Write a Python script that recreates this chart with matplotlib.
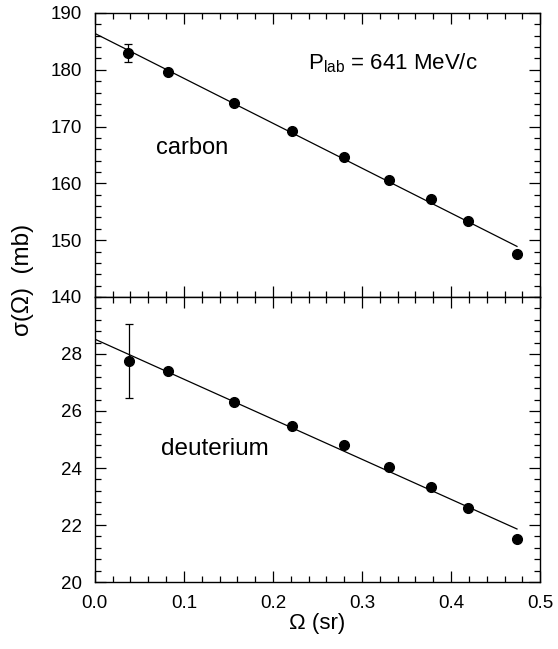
import numpy as np
import matplotlib.pyplot as plt
from matplotlib.ticker import MultipleLocator

plt.rcParams['font.family'] = ['Liberation Sans', 'DejaVu Sans']
plt.rcParams['mathtext.fontset'] = 'custom'
plt.rcParams['mathtext.rm'] = 'Liberation Sans'

# solid angle bins (sr)
omega_c = [0.037, 0.082, 0.156, 0.221, 0.280, 0.330, 0.378, 0.419, 0.474]
sigma_c = [183.0, 179.6, 174.1, 169.2, 164.6, 160.6, 157.2, 153.4, 147.6]
err_c = [1.6, 0, 0, 0, 0, 0, 0, 0, 0]

omega_d = [0.038, 0.082, 0.156, 0.221, 0.280, 0.330, 0.378, 0.419, 0.474]
sigma_d = [27.75, 27.40, 26.31, 25.49, 24.81, 24.02, 23.33, 22.61, 21.51]
err_d = [1.3, 0, 0, 0, 0, 0, 0, 0, 0]

# linear fits: intercept, slope
fit_c = (186.4, -79.1)
fit_d = (28.52, -14.05)
fit_range = (0.0, 0.474)

fig = plt.figure(figsize=(5.58, 6.49), dpi=100)
ax1 = fig.add_axes([0.170, 0.5424, 0.798, 0.4376])
ax2 = fig.add_axes([0.170, 0.1032, 0.798, 0.4392], sharex=ax1)


def draw(ax, om, sig, err, fit):
    xx = np.linspace(fit_range[0], fit_range[1], 2)
    ax.plot(xx, fit[0] + fit[1] * xx, color='black', lw=0.9)
    ax.errorbar(om, sig, yerr=err, fmt='o', color='black', ms=7,
                elinewidth=0.9, capsize=3, capthick=0.9)
    ax.tick_params(which='both', direction='in', top=True, right=True,
                   labelsize=13.5, width=0.9)
    ax.tick_params(which='major', length=8)
    ax.tick_params(which='minor', length=4)
    ax.tick_params(axis='y', pad=9)
    for s in ax.spines.values():
        s.set_linewidth(1.0)


draw(ax1, omega_c, sigma_c, err_c, fit_c)
draw(ax2, omega_d, sigma_d, err_d, fit_d)

ax1.set_xlim(0, 0.5)
ax1.set_ylim(140, 190)
ax1.yaxis.set_major_locator(MultipleLocator(10))
ax1.yaxis.set_minor_locator(MultipleLocator(2))
ax1.xaxis.set_major_locator(MultipleLocator(0.1))
ax1.xaxis.set_minor_locator(MultipleLocator(0.02))
ax1.tick_params(labelbottom=False)

ax2.set_ylim(20, 30)
ax2.set_yticks([20, 22, 24, 26, 28])
ax2.yaxis.set_minor_locator(MultipleLocator(0.4))
ax2.set_xticks([0.0, 0.1, 0.2, 0.3, 0.4, 0.5])
ax2.set_xticklabels(['0.0', '0.1', '0.2', '0.3', '0.4', '0.5'])
ax2.tick_params(axis='x', pad=9)

ax1.text(0.109, 166.2, 'carbon', fontsize=17, ha='center', va='center')
ax2.text(0.135, 24.66, 'deuterium', fontsize=17.5, ha='center', va='center')
ax1.text(0.239, 181.2, r'P$_{\mathrm{lab}}$ = 641 MeV/c', fontsize=16,
         ha='left', va='center')

ax2.set_xlabel('Ω (sr)', fontsize=16, labelpad=1)
fig.text(0.042, 0.569, 'σ(Ω)  (mb)', rotation=90, fontsize=17.5,
         ha='center', va='center')

fig.savefig('out.png', dpi=100)
